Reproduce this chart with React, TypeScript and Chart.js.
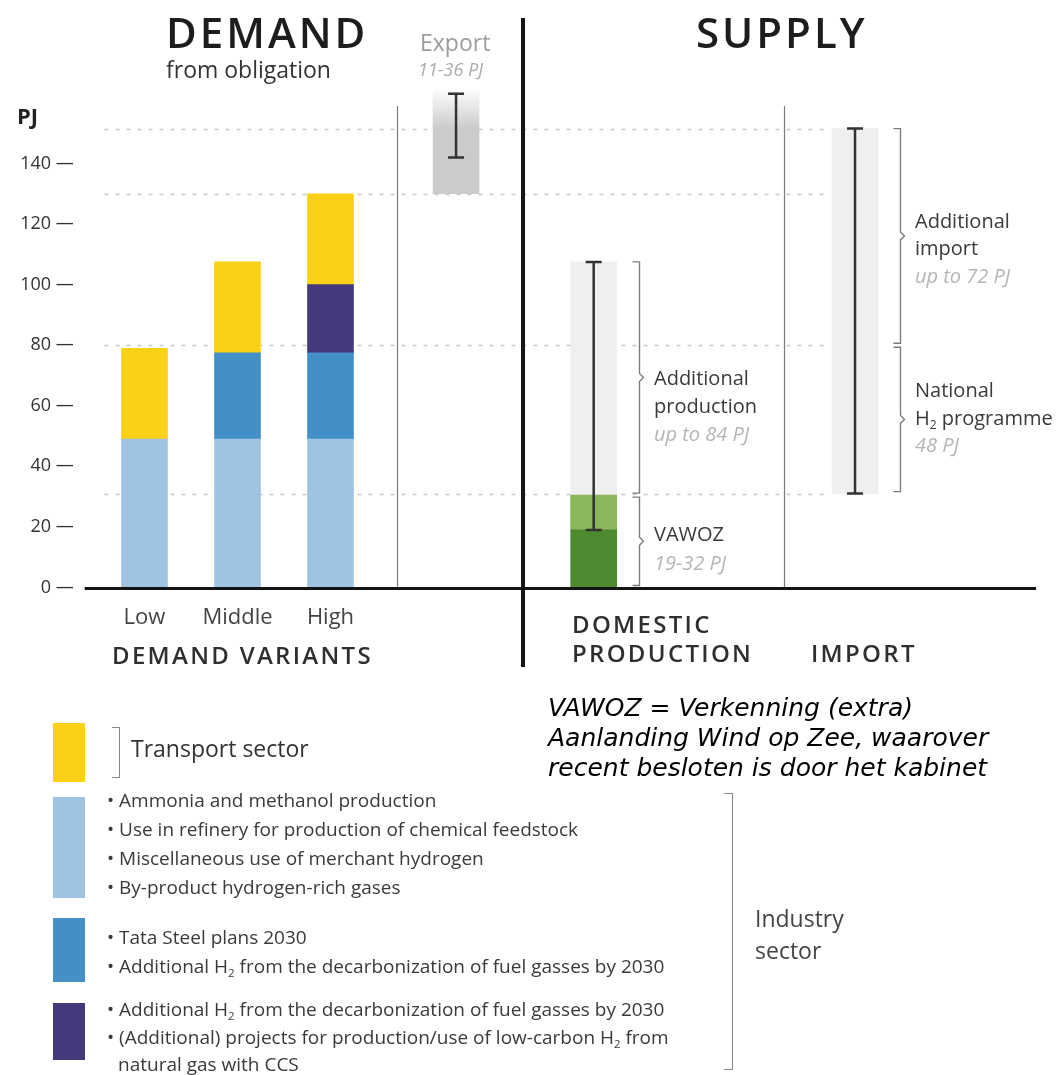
import React, { useEffect, useRef } from 'react';
import { Chart, registerables } from 'chart.js';

Chart.register(...registerables);

const W = 1061;
const H = 1075;

// ---------------- data ----------------
const variants = ['Low', 'Middle', 'High'];
const variantPos = [1, 2, 3];
const industryBase = [49, 49, 49];
const tataSteel = [0, 28.5, 28.5];
const ccsProjects = [0, 0, 22.5];
const transport = [30, 30, 30];

const exportPos = 4.35;
const exportBand = [130, 151.5];
const exportFadeTop = 165;
const exportRange = [142, 163];

const domesticPos = 5.83;
const vawozRange = [19, 30.5];
const domesticMax = 107.5;

const importPos = 8.64;
const importRange = [31, 151.5];
const nationalTop = 80;

const guideLines = [31, 80, 130, 151.5];
const thinSeparators = [3.71, 7.876];
const mainSeparator = 5.07;
const yTickMax = 140;
const yStep = 20;

// ---------------- layout ----------------
const X_MIN = 0.357;
const X_MAX = 10.586;
const AREA_LEFT = 84.7;
const AREA_RIGHT = 1036;
const Y0 = 587.5;
const PX_PER_PJ = 3.029;
const Y_MAX = 175;
const AREA_TOP = Y0 - Y_MAX * PX_PER_PJ;

const xPx = (v: number) => AREA_LEFT + ((v - X_MIN) / (X_MAX - X_MIN)) * (AREA_RIGHT - AREA_LEFT);

const C = {
  yellow: '#fbd117',
  lightBlue: '#9fc4e3',
  midBlue: '#4390c7',
  purple: '#43397b',
  darkGreen: '#4e8a2f',
  lightGreen: '#8cb65c',
  band: '#efefef',
  exportGrey: '#cbcbcb',
};

const bars = (vals: number[], bases: number[]) =>
  variantPos
    .map((x, i) => ({ x, y: [bases[i], bases[i] + vals[i]] }))
    .filter((d, i) => vals[i] > 0);

const base2 = industryBase.map((v, i) => v + tataSteel[i]);
const base3 = base2.map((v, i) => v + ccsProjects[i]);

const decor = {
  id: 'decor',
  beforeDatasetsDraw(chart: any) {
    const { ctx, scales } = chart;
    const x = scales.x;
    const y = scales.y;
    ctx.save();
    ctx.strokeStyle = '#c8c8c8';
    ctx.lineWidth = 1.5;
    ctx.setLineDash([4, 7]);
    const gx0 = x.getPixelForValue(variantPos[0]) - 40;
    const gx1 = x.getPixelForValue(importPos) - 27;
    guideLines.forEach((v) => {
      const py = Math.round(y.getPixelForValue(v)) + 0.5;
      ctx.beginPath();
      ctx.moveTo(gx0, py);
      ctx.lineTo(gx1, py);
      ctx.stroke();
    });
    ctx.setLineDash([]);
    ctx.strokeStyle = '#7a7a7a';
    ctx.lineWidth = 1.2;
    thinSeparators.forEach((v) => {
      const px = Math.round(x.getPixelForValue(v)) + 0.5;
      ctx.beginPath();
      ctx.moveTo(px, 106);
      ctx.lineTo(px, y.getPixelForValue(0));
      ctx.stroke();
    });
    ctx.restore();
  },
  afterDatasetsDraw(chart: any) {
    const { ctx, scales } = chart;
    const x = scales.x;
    const y = scales.y;
    ctx.save();
    const errorBar = (pos: number, lo: number, hi: number) => {
      const px = x.getPixelForValue(pos);
      const y1 = y.getPixelForValue(lo);
      const y2 = y.getPixelForValue(hi);
      ctx.strokeStyle = '#333';
      ctx.lineWidth = 2.5;
      ctx.beginPath();
      ctx.moveTo(px, y1);
      ctx.lineTo(px, y2);
      ctx.moveTo(px - 8, y1);
      ctx.lineTo(px + 8, y1);
      ctx.moveTo(px - 8, y2);
      ctx.lineTo(px + 8, y2);
      ctx.stroke();
    };
    errorBar(exportPos, exportRange[0], exportRange[1]);
    errorBar(domesticPos, vawozRange[0], domesticMax);
    errorBar(importPos, importRange[0], importRange[1]);

    const bracket = (pos: number, lo: number, hi: number, gapLo: number, gapHi: number) => {
      const bx = Math.round(x.getPixelForValue(pos) + 45) + 0.5;
      const yb = y.getPixelForValue(lo) - gapLo;
      const yt = y.getPixelForValue(hi) + gapHi;
      const ym = (yb + yt) / 2;
      ctx.strokeStyle = '#7d7d7d';
      ctx.lineWidth = 1.4;
      ctx.beginPath();
      ctx.moveTo(bx - 7, yt);
      ctx.lineTo(bx, yt);
      ctx.lineTo(bx, ym - 4);
      ctx.lineTo(bx + 4, ym);
      ctx.lineTo(bx, ym + 4);
      ctx.lineTo(bx, yb);
      ctx.lineTo(bx - 7, yb);
      ctx.stroke();
    };
    bracket(domesticPos, 0, vawozRange[1], 2, 2);
    bracket(domesticPos, vawozRange[1], domesticMax, 2, 0);
    bracket(importPos, importRange[0], nationalTop, 2, 2);
    bracket(importPos, nationalTop, importRange[1], 2, 0);

    const by = y.getPixelForValue(0) + 1;
    ctx.strokeStyle = '#141414';
    ctx.lineWidth = 3;
    ctx.beginPath();
    ctx.moveTo(chart.chartArea.left, by);
    ctx.lineTo(chart.chartArea.right, by);
    ctx.stroke();

    const sx = x.getPixelForValue(mainSeparator);
    ctx.lineWidth = 4;
    ctx.beginPath();
    ctx.moveTo(sx, 18);
    ctx.lineTo(sx, 667);
    ctx.stroke();
    ctx.restore();
  },
};

const exportFade = (context: any) => {
  const chart = context.chart;
  const y = chart.scales && chart.scales.y;
  if (!chart.chartArea || !y) return C.exportGrey;
  const g = chart.ctx.createLinearGradient(0, y.getPixelForValue(exportFadeTop), 0, y.getPixelForValue(exportBand[1]));
  g.addColorStop(0, 'rgba(203,203,203,0)');
  g.addColorStop(1, 'rgba(203,203,203,1)');
  return g;
};

const font = "'Open Sans', sans-serif";

type TProps = { x: number; cy: number; children: React.ReactNode; style?: React.CSSProperties; center?: boolean };
const T = ({ x, cy, children, style, center }: TProps) => (
  <div
    style={{
      position: 'absolute',
      left: x,
      top: cy,
      transform: center ? 'translate(-50%, -50%)' : 'translateY(-50%)',
      whiteSpace: 'nowrap',
      fontFamily: font,
      lineHeight: 1,
      color: '#333',
      ...style,
    }}
  >
    {children}
  </div>
);

const Sub2 = () => (
  <span style={{ fontSize: '0.6em', position: 'relative', top: '0.35em' }}>2</span>
);

const title: React.CSSProperties = { fontSize: 42, fontWeight: 600, letterSpacing: 3, color: '#1d1d1d' };
const heading: React.CSSProperties = { fontSize: 24, fontWeight: 600, letterSpacing: 2.3, color: '#2f2f2f' };
const note: React.CSSProperties = { fontSize: 20, color: '#3a3a3a' };
const noteGrey: React.CSSProperties = { fontSize: 20, fontStyle: 'italic', color: '#b5b5b5' };
const legendText: React.CSSProperties = { fontSize: 19, color: '#3a3a3a' };

export default function App() {
  const canvasRef = useRef<HTMLCanvasElement | null>(null);

  useEffect(() => {
    if (!canvasRef.current) return;
    const bar = (label: string, data: any[], color: any, order = 1) => ({
      label,
      data,
      backgroundColor: color,
      borderWidth: 0,
      barThickness: 46,
      grouped: false,
      order,
    });
    const chart = new Chart(canvasRef.current, {
      type: 'bar',
      data: {
        datasets: [
          bar('Industry base', bars(industryBase, [0, 0, 0]), C.lightBlue),
          bar('Tata Steel', bars(tataSteel, industryBase), C.midBlue),
          bar('CCS projects', bars(ccsProjects, base2), C.purple),
          bar('Transport', bars(transport, base3), C.yellow),
          bar('Export fade', [{ x: exportPos, y: [exportBand[1], exportFadeTop] }], exportFade, 3),
          bar('Export', [{ x: exportPos, y: exportBand }], C.exportGrey, 2),
          bar('Domestic range', [{ x: domesticPos, y: [0, domesticMax] }], C.band, 3),
          bar('VAWOZ low', [{ x: domesticPos, y: [0, vawozRange[0]] }], C.darkGreen),
          bar('VAWOZ high', [{ x: domesticPos, y: vawozRange }], C.lightGreen),
          bar('Import', [{ x: importPos, y: importRange }], C.band, 3),
        ],
      },
      options: {
        animation: false,
        responsive: false,
        maintainAspectRatio: false,
        layout: { padding: { left: 0, right: W - AREA_RIGHT, top: AREA_TOP, bottom: H - Y0 } },
        plugins: { legend: { display: false }, tooltip: { enabled: false } },
        scales: {
          x: { type: 'linear', min: X_MIN, max: X_MAX, display: false, offset: false },
          y: {
            type: 'linear',
            min: 0,
            max: Y_MAX,
            position: 'left',
            grid: { display: false, drawTicks: false },
            border: { display: false },
            ticks: {
              stepSize: yStep,
              padding: 11,
              color: '#333',
              font: { family: font, size: 18 },
              callback: (v: any) => (v <= yTickMax ? `${v} \u2014` : null),
            },
            afterFit: (s: any) => {
              s.width = AREA_LEFT;
            },
          },
        },
      } as any,
      plugins: [decor],
    });
    return () => chart.destroy();
  }, []);

  return (
    <div style={{ position: 'absolute', left: 0, top: 0, width: W, height: H, background: '#fff', overflow: 'hidden' }}>
      <canvas ref={canvasRef} width={W} height={H} style={{ position: 'absolute', left: 0, top: 0, width: W, height: H }} />

      <T x={166} cy={32} style={title}>DEMAND</T>
      <T x={166} cy={69} style={{ fontSize: 23, color: '#333' }}>from obligation</T>
      <T x={420} cy={42} style={{ fontSize: 23, color: '#9c9c9c' }}>Export</T>
      <T x={418} cy={69} style={{ fontSize: 18, fontStyle: 'italic', color: '#ababab' }}>11-36 PJ</T>
      <T x={696} cy={32} style={title}>SUPPLY</T>
      <T x={17} cy={115} style={{ fontSize: 22, fontWeight: 700, color: '#222' }}>PJ</T>

      {variants.map((v, i) => (
        <T key={v} x={xPx(variantPos[i])} cy={615} center style={{ fontSize: 22, color: '#444' }}>
          {v}
        </T>
      ))}
      <T x={112} cy={655} style={heading}>DEMAND VARIANTS</T>
      <T x={572} cy={624} style={heading}>DOMESTIC</T>
      <T x={572} cy={653} style={heading}>PRODUCTION</T>
      <T x={811} cy={653} style={heading}>IMPORT</T>

      <T x={654} cy={378} style={note}>Additional</T>
      <T x={654} cy={406} style={note}>production</T>
      <T x={654} cy={434} style={noteGrey}>up to 84 PJ</T>
      <T x={654} cy={534} style={note}>VAWOZ</T>
      <T x={654} cy={563} style={noteGrey}>19-32 PJ</T>
      <T x={915} cy={221} style={note}>Additional</T>
      <T x={915} cy={248} style={note}>import</T>
      <T x={915} cy={276} style={noteGrey}>up to 72 PJ</T>
      <T x={915} cy={390} style={note}>National</T>
      <T x={915} cy={418} style={note}>
        H<Sub2 /> programme
      </T>
      <T x={915} cy={445} style={noteGrey}>48 PJ</T>

      {['VAWOZ = Verkenning (extra)', 'Aanlanding Wind op Zee, waarover', 'recent besloten is door het kabinet'].map((s, i) => (
        <T key={s} x={548} cy={707 + i * 30} style={{ fontFamily: "'DejaVu Sans', sans-serif", fontStyle: 'italic', fontSize: 25, color: '#000' }}>
          {s}
        </T>
      ))}

      <div style={{ position: 'absolute', left: 53, top: 723, width: 32, height: 59, background: C.yellow }} />
      <div style={{ position: 'absolute', left: 53, top: 797, width: 32, height: 101, background: C.lightBlue }} />
      <div style={{ position: 'absolute', left: 53, top: 918, width: 32, height: 64, background: C.midBlue }} />
      <div style={{ position: 'absolute', left: 53, top: 1003, width: 32, height: 57, background: C.purple }} />
      <div style={{ position: 'absolute', left: 112, top: 727, width: 8, height: 51, borderTop: '1.5px solid #888', borderRight: '1.5px solid #888', borderBottom: '1.5px solid #888', boxSizing: 'border-box' }} />
      <T x={131} cy={748} style={{ fontSize: 23, color: '#333' }}>Transport sector</T>

      <T x={107} cy={800} style={legendText}>• Ammonia and methanol production</T>
      <T x={107} cy={829} style={legendText}>• Use in refinery for production of chemical feedstock</T>
      <T x={107} cy={858} style={legendText}>• Miscellaneous use of merchant hydrogen</T>
      <T x={107} cy={887} style={legendText}>• By-product hydrogen-rich gases</T>
      <T x={107} cy={937} style={legendText}>• Tata Steel plans 2030</T>
      <T x={107} cy={966} style={legendText}>
        • Additional H<Sub2 /> from the decarbonization of fuel gasses by 2030
      </T>
      <T x={107} cy={1009} style={legendText}>
        • Additional H<Sub2 /> from the decarbonization of fuel gasses by 2030
      </T>
      <T x={107} cy={1037} style={legendText}>
        • (Additional) projects for production/use of low-carbon H<Sub2 /> from
      </T>
      <T x={118} cy={1064} style={legendText}>natural gas with CCS</T>

      <div style={{ position: 'absolute', left: 724, top: 793, width: 9, height: 277, borderTop: '1.5px solid #888', borderRight: '1.5px solid #888', borderBottom: '1.5px solid #888', boxSizing: 'border-box' }} />
      <T x={755} cy={918} style={{ fontSize: 23, color: '#444' }}>Industry</T>
      <T x={755} cy={950} style={{ fontSize: 23, color: '#444' }}>sector</T>
    </div>
  );
}
